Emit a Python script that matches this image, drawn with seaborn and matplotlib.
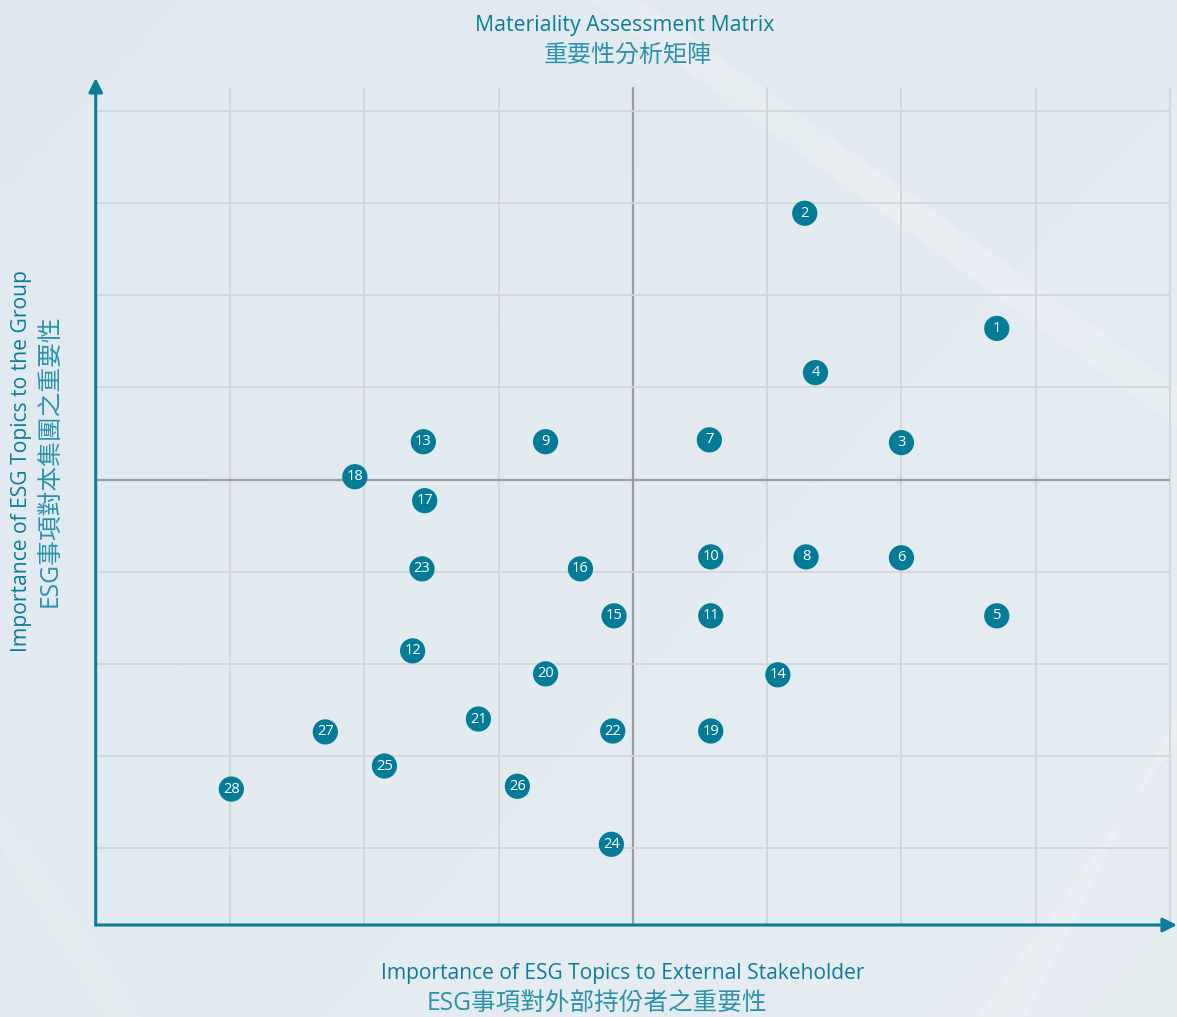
import numpy as np
import pandas as pd
import matplotlib
matplotlib.use("Agg")
import matplotlib.pyplot as plt
import seaborn as sns

# ---- data ----
topics = [str(i) for i in range(1, 29)]
external = [6.71, 5.28, 6.00, 5.36, 6.71, 6.00, 4.57, 5.29, 3.35, 4.58,
            4.58, 2.36, 2.44, 5.08, 3.86, 3.61, 2.45, 1.93, 4.58, 3.35,
            2.85, 3.85, 2.43, 3.84, 2.15, 3.14, 1.71, 1.01]
group = [6.64, 7.89, 5.40, 6.16, 3.52, 4.15, 5.43, 4.16, 5.41, 4.16,
         3.52, 3.14, 5.41, 2.88, 3.52, 4.03, 4.77, 5.03, 2.27, 2.89,
         2.40, 2.27, 4.03, 1.04, 1.89, 1.67, 2.26, 1.64]

title_en = "Materiality Assessment Matrix"
title_zh = "重要性分析矩陣"
xlabel_en = "Importance of ESG Topics to External Stakeholder"
xlabel_zh = "ESG事項對外部持份者之重要性"
ylabel_en = "Importance of ESG Topics to the Group"
ylabel_zh = "ESG事項對本集團之重要性"

df = pd.DataFrame({"topic": topics, "external": external, "group": group})

sns.set_theme(style="white")
plt.rcParams['font.family'] = ['Open Sans', 'Noto Sans CJK TC', 'DejaVu Sans']

W, H = 1177, 1017
fig = plt.figure(figsize=(W / 100, H / 100), dpi=100)

# background
bg = fig.add_axes([0, 0, 1, 1], zorder=-10)
yy, xx = np.mgrid[0:1:200j, 0:1:200j]
base = np.array([0.905, 0.930, 0.948])
shade = (0.5 - 0.5 * xx) * 0.025 + (yy) * 0.01
img = np.clip(base[None, None, :] - shade[..., None] * np.array([1.2, 0.6, 0.3]), 0, 1)
bg.imshow(img, extent=[0, 1, 0, 1], origin="lower", aspect="auto")
# diagonal light streaks
bg.fill([0.50, 0.545, 1.0, 1.0], [1.0, 1.0, 0.62, 0.58], color="white", alpha=0.18, lw=0)
bg.fill([0.83, 0.87, 1.0, 1.0], [0.0, 0.0, 0.30, 0.27], color="white", alpha=0.18, lw=0)
bg.fill([0.0, 0.0, 0.12, 0.09], [0.17, 0.21, 0.0, 0.0], color="white", alpha=0.12, lw=0)
bg.set_xlim(0, 1); bg.set_ylim(0, 1); bg.axis("off")

teal = "#0b7d98"
teal_zh = "#2c93ab"
marker_c = "#047b97"

left, right, top, bottom = 95.7, 1170, 88, 925
ax = fig.add_axes([left / W, 1 - bottom / H, (right - left) / W, (bottom - top) / H])
ax.set_facecolor("none")
ax.set_xlim(0, 8)
ax.set_ylim(1 - 77 / 92.125, 9 + 23 / 92.125)

for xv in range(1, 9):
    ax.axvline(xv, color="#9a9da0" if xv == 4 else "#d2d6d9", lw=1.6 if xv == 4 else 1.3, zorder=1, clip_on=False)
for yv in range(1, 10):
    ax.axhline(yv, color="#9a9da0" if yv == 5 else "#d2d6d9", lw=1.6 if yv == 5 else 1.3, zorder=1)

sns.scatterplot(data=df, x="external", y="group", ax=ax, s=330, color=marker_c,
                edgecolor="none", zorder=3, legend=False)
for t, xv, yv in zip(df["topic"], df["external"], df["group"]):
    ax.text(xv, yv, t, color="white", fontsize=10.5, ha="center", va="center", zorder=4)

for s in ax.spines.values():
    s.set_visible(False)
ax.set_xticks([]); ax.set_yticks([])
ax.set_xlabel(""); ax.set_ylabel("")

# axis arrows
ax.annotate("", xy=(0, 1.012), xytext=(0, 0), xycoords="axes fraction",
            arrowprops=dict(arrowstyle="-|>,head_length=0.7,head_width=0.35", color=teal, lw=2.2,
                            shrinkA=0, shrinkB=0), annotation_clip=False)
ax.annotate("", xy=((W - left) / (right - left), 0), xytext=(0, 0), xycoords="axes fraction",
            arrowprops=dict(arrowstyle="-|>,head_length=0.7,head_width=0.35", color=teal, lw=2.2,
                            shrinkA=0, shrinkB=0), annotation_clip=False)

# titles / labels
def ft(x, y, s, size, color, **kw):
    fig.text(x / W, 1 - y / H, s, fontsize=size, color=color, ha="center", va="center", **kw)

ft(625, 25, title_en, 15.3, teal)
ft(628, 56, title_zh, 17.3, teal_zh)
ft(623, 973, xlabel_en, 15.1, teal)
ft(597, 1003, xlabel_zh, 17.7, teal_zh)
ft(22, 461, ylabel_en, 15.2, teal, rotation=90)
ft(51, 461, ylabel_zh, 17.8, teal_zh, rotation=90)

fig.savefig("out.png", dpi=100)
